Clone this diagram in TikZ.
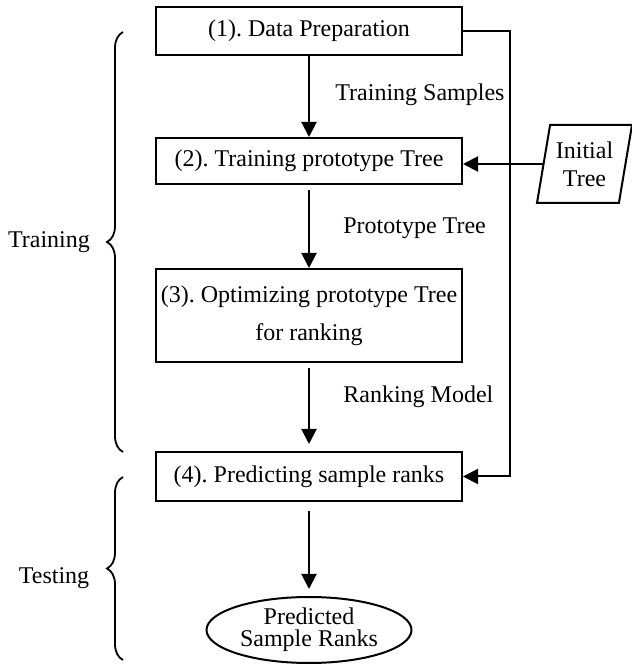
\documentclass[tikz,border=0pt]{standalone}
\usepackage{fontspec}
\setmainfont{Liberation Serif}
\usetikzlibrary{arrows.meta, positioning, shapes.geometric, decorations.pathreplacing}
\frenchspacing

\begin{document}
\begin{tikzpicture}[x=0.5pt, y=0.5pt,
	stage/.style={draw, line width=1pt, minimum width=153pt, inner xsep=2pt, font=\fontsize{12}{19}\selectfont, align=center},
	flow/.style={-{Triangle[length=7.5pt,width=7.5pt]}, line width=1pt},
	note/.style={font=\fontsize{12}{14}\selectfont, anchor=west, inner sep=0pt},
	phase/.style={decorate, decoration={brace, amplitude=8pt}, line width=0.9pt}]
	\useasboundingbox (0,0) rectangle (632,665);
	% stages
	\node[stage, minimum height=24pt] (prep) at (309,634) {(1). Data Preparation};
	\node[stage, minimum height=23pt] (train) at (309,504) {(2). Training prototype Tree};
	\node[stage, minimum height=46.5pt] (opt) at (309,349.5) {(3). Optimizing prototype Tree\\for ranking};
	\node[stage, minimum height=24.5pt] (pred) at (309,188.5) {(4). Predicting sample ranks};
	\node[draw, ellipse, line width=1pt, minimum width=102.5pt, minimum height=33pt, inner sep=0pt, align=center, font=\fontsize{12}{11}\selectfont] (ranks) at (309,35) {Predicted\\Sample Ranks};
	\node[draw, trapezium, trapezium left angle=75, trapezium right angle=105, trapezium stretches body, line width=1pt, minimum width=47.5pt, minimum height=39pt, inner sep=1pt, align=center, font=\fontsize{12}{14}\selectfont] (init) at (584.5,501) {Initial\\Tree};
	% flow
	\draw[flow] (prep) -- (train);
	\draw[flow, shorten <=2.5pt] (train) -- (opt);
	\draw[flow, shorten <=2.5pt, shorten >=3.5pt] (opt) -- (pred);
	\draw[flow, shorten <=4.5pt, shorten >=3.5pt] (pred) -- (ranks);
	\coordinate (bus) at (510,0);
	\draw[flow] (prep.east) -- (prep.east -| bus) -- (pred.east -| bus) -- (pred.east);
	\draw[flow] (init.west) -- (init.west -| train.east);
	\node[note] (samples) at (335,570) {Training Samples};
	\node[note] (proto) at (343,437) {Prototype Tree};
	\node[note] (model) at (343,268) {Ranking Model};
	% phases
	\draw[phase] (123,213) -- (123,633);
	\draw[phase] (123,5) -- (123,188);
	\node[font=\fontsize{12}{14}\selectfont] (trn) at (49,423) {Training};
	\node[font=\fontsize{12}{14}\selectfont] (tst) at (54,87) {Testing};
\end{tikzpicture}
\end{document}
